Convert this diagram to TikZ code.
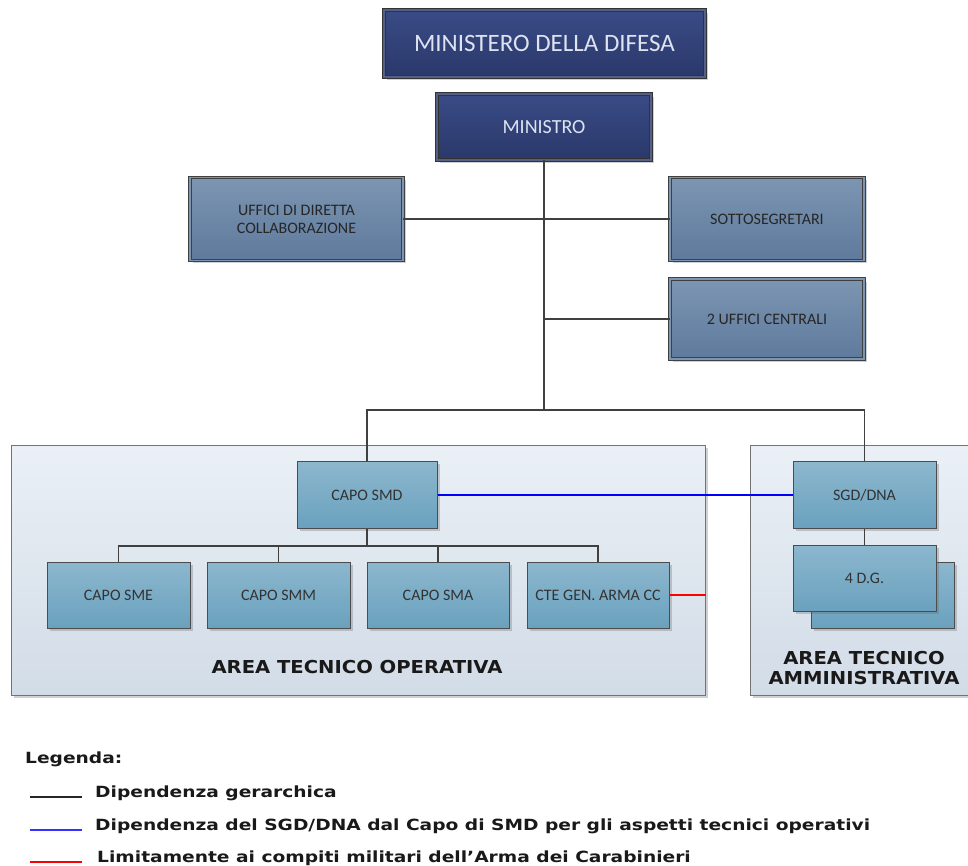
\documentclass[tikz,border=0pt]{standalone}
\usepackage{fontspec}
\setmainfont{Carlito}
\newfontfamily\legfont[FakeStretch=1.21]{DejaVu Sans}
\newfontfamily\areafont[FakeStretch=1.1]{DejaVu Sans}
\usetikzlibrary{shadows}
\definecolor{navyT}{HTML}{3A4B86}
\definecolor{navyB}{HTML}{2A386A}
\definecolor{steelT}{HTML}{7C95B2}
\definecolor{steelB}{HTML}{5E7A9C}
\definecolor{lightT}{HTML}{8CB7CE}
\definecolor{lightB}{HTML}{6AA1BE}
\definecolor{areaT}{HTML}{EAF0F6}
\definecolor{areaB}{HTML}{D2DCE7}
\definecolor{linegray}{HTML}{404040}
\definecolor{navytext}{HTML}{DDE3F0}
\begin{document}
\begin{tikzpicture}[x=1pt,y=-1pt,
  shad/.style={drop shadow={shadow xshift=2.5pt,shadow yshift=-2.5pt,opacity=0.3,fill=black!60}},
  navybox/.style={shape=rectangle,inner sep=2pt,shad,top color=navyT,bottom color=navyB,draw=black!80,double=navyB!80,double distance=1.4pt,line width=0.9pt,text=navytext,align=center},
  steelbox/.style={shape=rectangle,inner sep=2pt,shad,top color=steelT,bottom color=steelB,draw=black!75,double=steelT,double distance=1.4pt,line width=0.9pt,text=black!85,align=center,font=\fontsize{16}{18}\selectfont},
  lightbox/.style={shape=rectangle,inner sep=2pt,shad,top color=lightT,bottom color=lightB,draw=black!70,line width=1pt,text=black!80,align=center,font=\fontsize{16}{18}\selectfont},
  areabox/.style={shape=rectangle,inner sep=0pt,shad,top color=areaT,bottom color=areaB,draw=black!55,line width=1pt},
  arealabel/.style={font=\areafont\bfseries\fontsize{17.8}{20.5}\selectfont,text=black!90,align=center},
  legtext/.style={font=\legfont\bfseries\fontsize{15.4}{18}\selectfont,text=black!90,anchor=base west,inner sep=0pt},
  conn/.style={draw=linegray,line width=1.2pt},
]
\useasboundingbox[fill=white] (0,0) rectangle (968,865);

% top boxes
\node[navybox,minimum width=321pt,minimum height=67pt,font=\fontsize{25}{28}\selectfont] (mindif) at (544.5,43.5) {MINISTERO DELLA DIFESA};
\node[navybox,minimum width=214pt,minimum height=66pt,font=\fontsize{20}{24}\selectfont] (ministro) at (544,127) {MINISTRO};
\node[steelbox,minimum width=213pt,minimum height=83pt] (uffici) at (296.5,219) {UFFICI DI DIRETTA\\COLLABORAZIONE};
\node[steelbox,minimum width=194pt,minimum height=83pt] (sotto) at (767,219) {SOTTOSEGRETARI};
\node[steelbox,minimum width=194pt,minimum height=80pt] (centrali) at (767,319) {2 UFFICI CENTRALI};

% areas
\node[areabox,minimum width=694pt,minimum height=250pt] (areaop) at (358,570) {};
\node[areabox,minimum width=226pt,minimum height=250pt] (areaam) at (863,570) {};

% area boxes
\node[lightbox,minimum width=140pt,minimum height=67pt] (smd) at (367,495) {CAPO SMD};
\node[lightbox,minimum width=143pt,minimum height=67pt] (sgd) at (864.5,495) {SGD/DNA};
\node[lightbox,minimum width=143pt,minimum height=66pt] (dgback) at (882.5,595) {};
\node[lightbox,minimum width=143pt,minimum height=66pt] (dg) at (864.5,578) {4 D.G.};
\node[lightbox,minimum width=143pt,minimum height=66pt] (sme) at (118.5,595) {CAPO SME};
\node[lightbox,minimum width=143pt,minimum height=66pt] (smm) at (278.5,595) {CAPO SMM};
\node[lightbox,minimum width=142pt,minimum height=66pt] (sma) at (438,595) {CAPO SMA};
\node[lightbox,minimum width=142pt,minimum height=66pt] (cte) at (598,595) {CTE GEN. ARMA CC};

\node[arealabel] (lblop) at (357,667) {AREA TECNICO OPERATIVA};
\node[arealabel] (lblam) at (864,668) {AREA TECNICO\\AMMINISTRATIVA};

% connectors
\coordinate (trunk) at (544,410);
\coordinate (bus) at (367,546);
\draw[conn] (ministro.south) -- (trunk);
\draw[conn] (uffici.east) -- (sotto.west);
\draw[conn] (ministro.south |- centrali.west) -- (centrali.west);
\draw[conn] (smd.north) |- (trunk) -| (sgd.north);
\draw[conn] (smd.south) -- (bus);
\draw[conn] (sme.north) |- (bus) -| (cte.north);
\draw[conn] (smm.north) |- (bus);
\draw[conn] (sma.north) |- (bus);
\draw[conn] (sgd.south) -- (dg.north);
\draw[draw=blue,line width=1.2pt] (smd.east) -- (sgd.west);
\draw[draw=red,line width=1.2pt] (cte.east) -- (cte.east -| areaop.east);

% legend
\node[legtext] (legtitle) at (25,763) {Legenda:};
\coordinate (l1a) at (30,797); \coordinate (l1b) at (82,797);
\coordinate (l2a) at (30,830); \coordinate (l2b) at (82,830);
\coordinate (l3a) at (30,862); \coordinate (l3b) at (82,862);
\draw[draw=black!85,line width=1.2pt] (l1a) -- (l1b);
\draw[draw=blue!80,line width=1.2pt] (l2a) -- (l2b);
\draw[draw=red,line width=1.2pt] (l3a) -- (l3b);
\node[legtext] (leg1) at (95,797) {Dipendenza gerarchica};
\node[legtext] (leg2) at (95,830) {Dipendenza del SGD/DNA dal Capo di SMD per gli aspetti tecnici operativi};
\node[legtext] (leg3) at (97,862) {Limitamente ai compiti militari dell’Arma dei Carabinieri};
\end{tikzpicture}
\end{document}
